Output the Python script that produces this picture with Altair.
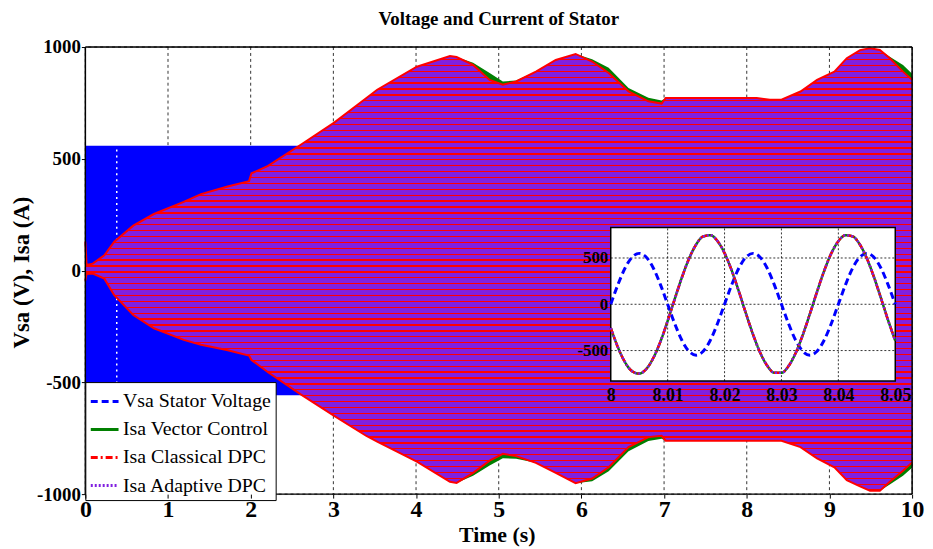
import altair as alt
import pandas as pd

SERIF = "Liberation Serif"

# ---------------- data ----------------
series_names = ["Vsa Stator Voltage", "Isa Vector Control", "Isa Classical DPC", "Isa Adaptive DPC"]
series_colors = ["#0000FF", "#008000", "#FF0000", "#8020E0"]
series_dashes = [[7, 4], [1, 0], [7, 3, 2, 3], [2, 2]]

# envelope of the dense 50 Hz oscillations (main plot)
main_t = [0, 0.015, 0.09, 0.23, 0.35, 0.58, 0.83, 1.19, 1.40, 1.71,
          1.98, 2.01, 2.21, 2.61, 3.01, 3.40, 3.53, 4.01, 4.41, 4.49,
          4.69, 4.89, 5.05, 5.21, 5.45, 5.69, 5.93, 6.13, 6.33, 6.57,
          6.81, 6.97, 7.02, 7.57, 8.12, 8.28, 8.42, 8.65, 8.85, 9.06,
          9.21, 9.37, 9.49, 9.61, 9.73, 9.89, 10]
cur_upper = [130, 25, 31, 68, 129, 201, 253, 307, 342, 375,
             400, 435, 468, 564, 662, 772, 809, 912, 960, 955,
             920, 853, 831, 846, 890, 942, 969, 935, 884, 801,
             757, 747, 772, 772, 772, 764, 764, 801, 853, 890,
             950, 986, 994, 987, 950, 890, 853]
cur_lower = [-45, -15, -13, -36, -110, -199, -258, -310, -332, -355,
             -380, -400, -455, -555, -650, -740, -765, -855, -945, -950,
             -905, -850, -820, -830, -860, -905, -951, -930, -880, -790,
             -745, -739, -761, -761, -761, -761, -761, -790, -840, -880,
             -938, -965, -985, -985, -945, -895, -858]
green_upper = [130, 25, 31, 68, 129, 201, 253, 307, 342, 375,
               400, 435, 468, 564, 662, 772, 809, 912, 960, 955,
               930, 884, 846, 850, 890, 942, 969, 945, 907, 817,
               773, 761, 772, 772, 772, 764, 764, 801, 853, 890,
               950, 986, 994, 987, 957, 920, 880]
green_lower = [-45, -15, -13, -36, -110, -199, -258, -310, -332, -355,
               -380, -400, -455, -555, -650, -740, -765, -855, -945, -950,
               -918, -872, -840, -842, -860, -905, -951, -942, -898, -808,
               -762, -752, -761, -761, -761, -761, -761, -790, -840, -880,
               -938, -965, -985, -985, -957, -918, -882]

vsa_t = [0, 10]
vsa_upper = [558, 558]
vsa_lower = [-558, -558]
gap_t = [0.38]

# zoomed inset, 8.00 s .. 8.05 s
inset_t = [8.0, 8.00125, 8.0025, 8.00375, 8.005, 8.00625, 8.0075, 8.00875, 8.01, 8.01125,
           8.0125, 8.01375, 8.015, 8.01625, 8.0175, 8.01875, 8.02, 8.02125, 8.0225, 8.02375,
           8.025, 8.02625, 8.0275, 8.02875, 8.03, 8.03125, 8.0325, 8.03375, 8.035, 8.03625,
           8.0375, 8.03875, 8.04, 8.04125, 8.0425, 8.04375, 8.045, 8.04625, 8.0475, 8.04875,
           8.05]
inset_vsa = [0, 210, 389, 508, 550, 508, 389, 210,
             0, -210, -389, -508, -550, -508, -389, -210,
             0, 210, 389, 508, 550, 508, 389, 210,
             0, -210, -389, -508, -550, -508, -389, -210,
             0, 210, 389, 508, 550, 508, 389, 210,
             0]
inset_isa = [-254, -463, -625, -723, -749, -699, -578, -400, -180, 58,
             289, 492, 645, 733, 746, 684, 553, 366, 142, -97,
             -325, -521, -664, -740, -741, -667, -526, -331, -103, 135,
             360, 549, 681, 745, 734, 648, 497, 295, 64, -174,
             -394]

main_xdomain = [0, 10]
main_ydomain = [-1000, 1000]
main_xticks = [0, 1, 2, 3, 4, 5, 6, 7, 8, 9, 10]
main_yticks = [-1000, -500, 0, 500, 1000]
inset_xdomain = [8, 8.05]
inset_ydomain = [-830, 830]
inset_xticks = [8, 8.01, 8.02, 8.03, 8.04, 8.05]
inset_yticks = [-500, 0, 500]

# ---------------- layout ----------------
W, H = 834, 451
INSET_X = [530, 817]
INSET_Y = [337, 182]

mx = alt.Scale(domain=main_xdomain, nice=False, zero=False)
my = alt.Scale(domain=main_ydomain, nice=False, zero=False)
ix = alt.Scale(domain=inset_xdomain, range=INSET_X, nice=False, zero=False)
iy = alt.Scale(domain=inset_ydomain, range=INSET_Y, nice=False, zero=False)

ax_mx = alt.Axis(title="Time (s)", values=main_xticks, grid=False, domain=False,
                 tickSize=4, tickColor="black", labelFont=SERIF, labelFontSize=24,
                 labelFontWeight="bold", labelColor="black", labelPadding=0,
                 labelFlush=False, labelOverlap=False, labelExpr="'' + datum.value",
                 titleFont=SERIF, titleFontSize=22, titleFontWeight="bold", titleColor="black",
                 titleX=415, titleY=41, titleAlign="center", titleBaseline="middle", zindex=1)
ax_my = alt.Axis(title="Vsa (V), Isa (A)", values=main_yticks, grid=False, domain=False,
                 tickSize=4, tickColor="black", labelFont=SERIF, labelFontSize=19,
                 labelFontWeight="bold", labelColor="black", labelPadding=1,
                 labelFlush=False, labelOverlap=False, labelExpr="'' + datum.value",
                 titleFont=SERIF, titleFontSize=23, titleFontWeight="bold", titleColor="black",
                 titleX=-64, titleY=227, titleAngle=270, titleAlign="center",
                 titleBaseline="middle", zindex=1)
ax_ix = alt.Axis(title=None, orient="bottom", offset=INSET_Y[0] - H, values=inset_xticks,
                 grid=False, domain=False, ticks=False, labelFont=SERIF, labelFontSize=18,
                 labelFontWeight="bold", labelColor="black", labelPadding=6,
                 labelFlush=False, labelOverlap=False, labelExpr="'' + datum.value", zindex=1)
ax_iy = alt.Axis(title=None, orient="left", offset=-INSET_X[0], values=inset_yticks,
                 grid=False, domain=False, ticks=False, labelFont=SERIF, labelFontSize=17,
                 labelFontWeight="bold", labelColor="black", labelPadding=3,
                 labelFlush=False, labelOverlap=False, labelExpr="'' + datum.value", zindex=1)

PURPLE = series_colors[3]
RED = series_colors[2]
stops = []
N = 75
for i in range(N):
    a, b, c = i / N, (i + 0.78) / N, (i + 1) / N
    stops += [alt.GradientStop(offset=a, color=PURPLE), alt.GradientStop(offset=b, color=PURPLE),
              alt.GradientStop(offset=b, color=RED), alt.GradientStop(offset=c, color=RED)]
stripes = alt.Gradient(gradient="linear", stops=stops, x1=0, x2=0, y1=0, y2=1)

# ---------------- main plot ----------------
df_env = pd.DataFrame({"t": main_t, "hi": cur_upper, "lo": cur_lower,
                       "ghi": green_upper, "glo": green_lower})
df_vsa = pd.DataFrame({"t": vsa_t, "hi": vsa_upper, "lo": vsa_lower})
df_gap = pd.DataFrame({"t": gap_t, "hi": vsa_upper[:1], "lo": vsa_lower[:1]})
df_gx = pd.DataFrame({"t": main_xticks})
df_gy = pd.DataFrame({"v": main_yticks})
df_fx = pd.DataFrame({"t": main_xdomain})
df_fy = pd.DataFrame({"v": main_ydomain})

X = lambda f: alt.X(f, scale=mx, axis=ax_mx)
Y = lambda f: alt.Y(f, scale=my, axis=ax_my)

grid_x = alt.Chart(df_gx).mark_rule(color="black", strokeWidth=0.8, strokeDash=[3, 3]).encode(x=X("t:Q"))
grid_y = alt.Chart(df_gy).mark_rule(color="black", strokeWidth=0.8, strokeDash=[3, 3]).encode(y=Y("v:Q"))
blue = alt.Chart(df_vsa).mark_area(color=series_colors[0], opacity=1).encode(
    x=X("t:Q"), y=Y("lo:Q"), y2="hi:Q")
gap = alt.Chart(df_gap).mark_rule(color="white", strokeWidth=1.5, strokeDash=[2, 4]).encode(
    x=X("t:Q"), y=Y("lo:Q"), y2="hi:Q")
green = alt.Chart(df_env).mark_area(color=series_colors[1], opacity=1).encode(
    x=X("t:Q"), y=Y("glo:Q"), y2="ghi:Q")
purple = alt.Chart(df_env).mark_area(fill=stripes, opacity=1).encode(
    x=X("t:Q"), y=Y("lo:Q"), y2="hi:Q")
red_hi = alt.Chart(df_env).mark_line(color=RED, strokeWidth=2).encode(x=X("t:Q"), y=Y("hi:Q"))
red_lo = alt.Chart(df_env).mark_line(color=RED, strokeWidth=2).encode(x=X("t:Q"), y=Y("lo:Q"))
frame_x = alt.Chart(df_fx).mark_rule(color="black", strokeWidth=1.5).encode(x=X("t:Q"))
frame_y = alt.Chart(df_fy).mark_rule(color="black", strokeWidth=1.5).encode(y=Y("v:Q"))

main = alt.layer(grid_x, grid_y, blue, gap, green, purple, red_hi, red_lo, frame_x, frame_y)

# ---------------- inset ----------------
IX = lambda f: alt.X(f, scale=ix, axis=ax_ix)
IY = lambda f: alt.Y(f, scale=iy, axis=ax_iy)

df_box = pd.DataFrame({"x0": inset_xdomain[:1], "x1": inset_xdomain[1:],
                       "y0": inset_ydomain[:1], "y1": inset_ydomain[1:]})
df_igx = pd.DataFrame({"gx": inset_xticks[1:-1]})
df_igx["y0"], df_igx["y1"] = inset_ydomain[0], inset_ydomain[1]
df_igy = pd.DataFrame({"gy": inset_yticks})
df_igy["x0"], df_igy["x1"] = inset_xdomain[0], inset_xdomain[1]

rows = []
for name in series_names:
    vals = inset_vsa if name == series_names[0] else inset_isa
    for t, v in zip(inset_t, vals):
        rows.append({"series": name, "t": t, "v": v})
df_in = pd.DataFrame(rows)

box = alt.Chart(df_box).mark_rect(fill="white", stroke="black", strokeWidth=1.5).encode(
    x=IX("x0:Q"), x2="x1:Q", y=IY("y0:Q"), y2="y1:Q")
igx = alt.Chart(df_igx).mark_rule(color="black", strokeWidth=0.8, strokeDash=[2, 2]).encode(
    x=IX("gx:Q"), y=IY("y0:Q"), y2="y1:Q")
igy = alt.Chart(df_igy).mark_rule(color="black", strokeWidth=0.8, strokeDash=[2, 2]).encode(
    y=IY("gy:Q"), x=IX("x0:Q"), x2="x1:Q")

leg = alt.Legend(title=None, orient="none", legendX=0, legendY=338, direction="vertical",
                 symbolType="stroke", symbolSize=784, symbolStrokeWidth=3,
                 labelFont=SERIF, labelFontSize=20, labelFontWeight="normal", labelColor="black",
                 labelOffset=3, labelLimit=400, padding=4, rowPadding=2.3,
                 fillColor="white", strokeColor="black")
col = alt.Color("series:N", scale=alt.Scale(domain=series_names, range=series_colors), legend=leg)
dash = alt.StrokeDash("series:N", scale=alt.Scale(domain=series_names, range=series_dashes), legend=leg)

line_layers = []
for name, w in zip(series_names, [3, 2.5, 2.5, 2.5]):
    line_layers.append(
        alt.Chart(df_in).transform_filter(alt.datum.series == name)
        .mark_line(strokeWidth=w, interpolate="monotone")
        .encode(x=IX("t:Q"), y=IY("v:Q"), color=col, strokeDash=dash))

inset = alt.layer(box, igx, igy, *line_layers)

chart = alt.layer(main, inset).resolve_scale(x="independent", y="independent").properties(
    width=W, height=H,
    autosize=alt.AutoSizeParams(type="none"),
    padding={"left": 78, "top": 37, "right": 13, "bottom": 53},
    title=alt.TitleParams("Voltage and Current of Stator", font=SERIF, fontSize=19,
                          fontWeight="bold", color="black", anchor="middle", frame="group",
                          offset=9),
).configure_view(stroke=None).configure(background="white")

chart.save("out.html", embed_options={"renderer": "svg", "actions": False})
